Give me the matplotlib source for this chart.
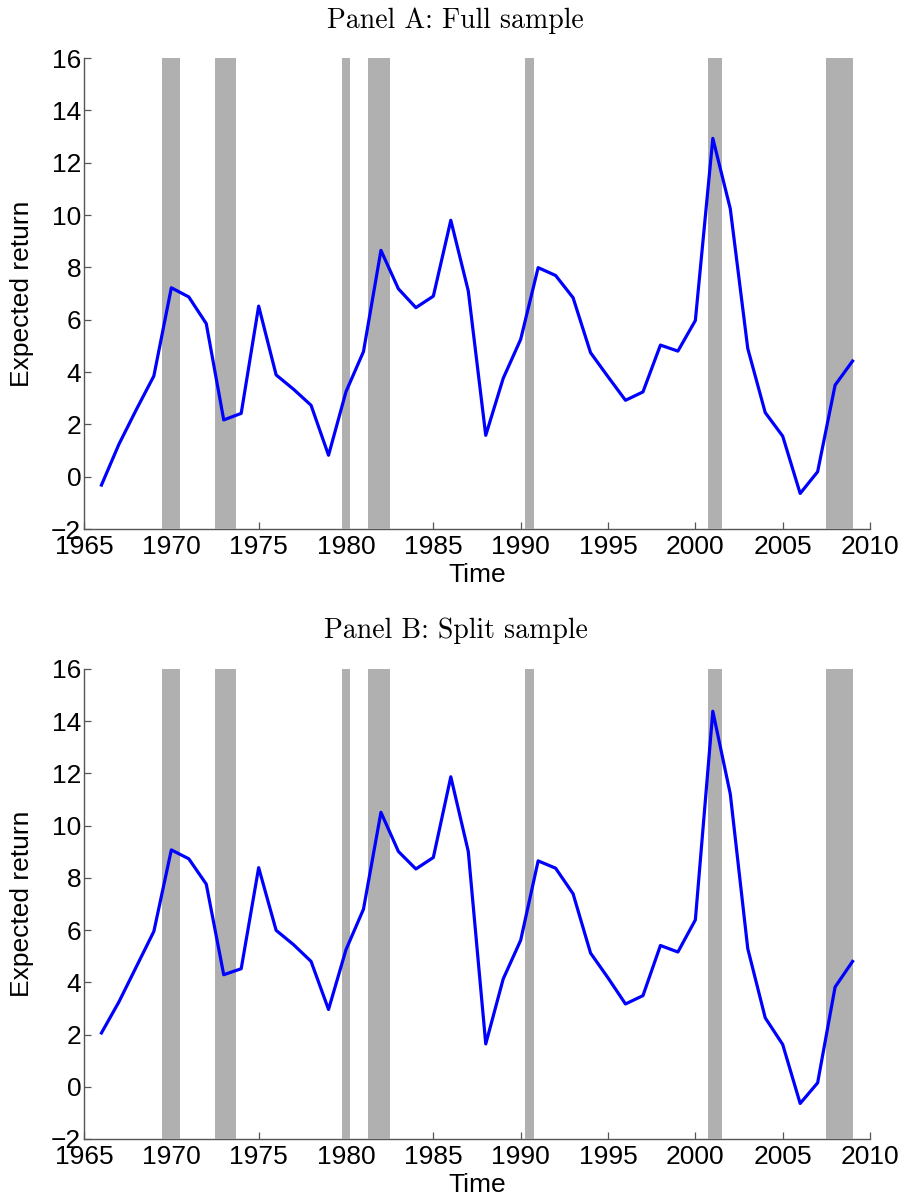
import numpy as np
import matplotlib
matplotlib.use("Agg")
import matplotlib.pyplot as plt

# years of the annual expected-return series
years = np.arange(1966, 2010)

# Panel A: full sample estimates
full_sample = [-0.32, 1.24, 2.57, 3.85, 7.22, 6.87, 5.85, 2.17, 2.42, 6.52,
               3.89, 3.34, 2.73, 0.82, 3.25, 4.78, 8.65, 7.18, 6.46, 6.90,
               9.80, 7.10, 1.58, 3.76, 5.25, 7.99, 7.69, 6.84, 4.74, 3.82,
               2.92, 3.24, 5.03, 4.80, 5.97, 12.93, 10.24, 4.90, 2.45, 1.55,
               -0.64, 0.19, 3.50, 4.42]

# Panel B: split sample estimates
split_sample = [2.06, 3.25, 4.60, 5.95, 9.07, 8.73, 7.76, 4.29, 4.52, 8.39,
                5.99, 5.44, 4.80, 2.96, 5.25, 6.80, 10.51, 9.01, 8.34, 8.78,
                11.87, 9.01, 1.64, 4.13, 5.61, 8.65, 8.37, 7.39, 5.12, 4.17,
                3.17, 3.49, 5.41, 5.16, 6.39, 14.38, 11.21, 5.29, 2.64, 1.62,
                -0.64, 0.15, 3.82, 4.80]

# recession periods (start, end)
rec_start = [1969.45, 1972.48, 1979.75, 1981.24, 1990.23, 2000.73, 2007.50]
rec_end = [1970.48, 1973.72, 1980.25, 1982.50, 1990.74, 2001.53, 2009.03]

panels = [("Panel A: Full sample", full_sample),
          ("Panel B: Split sample", split_sample)]

sans = ["Liberation Sans", "DejaVu Sans"]
fig = plt.figure(figsize=(9.06, 12.04), dpi=100)

ax_pos = [[0.0927, 0.5606, 0.8676, 0.3912],
          [0.0927, 0.0540, 0.8676, 0.3904]]
title_y = [0.983, 0.476]

for i, (title, vals) in enumerate(panels):
    ax = fig.add_axes(ax_pos[i])
    for s, e in zip(rec_start, rec_end):
        ax.axvspan(s, e, color="#b0b0b0", lw=0, zorder=3)
    ax.plot(years, vals, color="#0000ff", lw=2.3, zorder=4)
    ax.set_xlim(1965, 2010)
    ax.set_ylim(-2, 16)
    ax.set_xticks(np.arange(1965, 2011, 5))
    ax.set_yticks(np.arange(-2, 17, 2))
    ax.spines["top"].set_visible(False)
    ax.spines["right"].set_visible(False)
    for sp in ["left", "bottom"]:
        ax.spines[sp].set_color("#555555")
        ax.spines[sp].set_linewidth(1.0)
    ax.tick_params(direction="in", length=5, width=0.9, color="#555555",
                   labelsize=19)
    ax.tick_params(axis="x", pad=4)
    ax.tick_params(axis="y", pad=2)
    for lab in ax.get_xticklabels() + ax.get_yticklabels():
        lab.set_family(sans)
    ax.set_xlabel("Time", fontsize=19, family=sans, labelpad=3)
    ax.set_ylabel("Expected return", fontsize=19, family=sans, labelpad=12)
    fig.text(0.503, title_y[i], title, ha="center", va="center",
             fontsize=20, family="cmr10")

fig.savefig("out.png", dpi=100)
